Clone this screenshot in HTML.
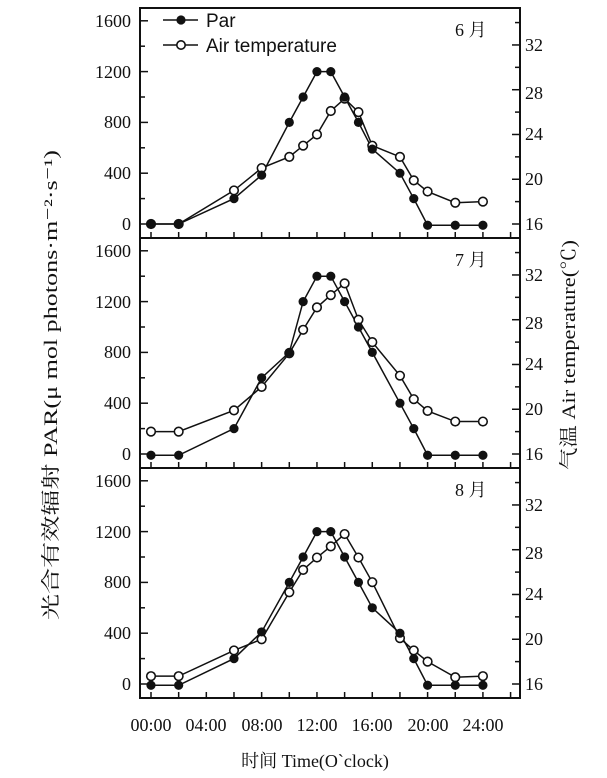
<!DOCTYPE html>
<html><head><meta charset="utf-8"><style>
body{margin:0;background:#fff;}
svg{display:block;font-family:"Liberation Serif","Noto Serif CJK SC",serif;}
</style></head><body>
<svg id="s" width="607" height="778" viewBox="0 0 607 778" xmlns="http://www.w3.org/2000/svg">
<g id="g"></g>
<g font-size="18" text-anchor="end" fill="#111">
<text x="131" y="27">1600</text><text x="131" y="78">1200</text><text x="131" y="128">800</text><text x="131" y="179">400</text><text x="131" y="230">0</text>
<text x="131" y="257">1600</text><text x="131" y="308">1200</text><text x="131" y="358">800</text><text x="131" y="409">400</text><text x="131" y="460">0</text>
<text x="131" y="487">1600</text><text x="131" y="538">1200</text><text x="131" y="588">800</text><text x="131" y="639">400</text><text x="131" y="690">0</text>
</g>
<g font-size="18" text-anchor="start" fill="#111">
<text x="525" y="51">32</text><text x="525" y="99">28</text><text x="525" y="140">24</text><text x="525" y="185">20</text><text x="525" y="230">16</text>
<text x="525" y="281">32</text><text x="525" y="329">28</text><text x="525" y="370">24</text><text x="525" y="415">20</text><text x="525" y="460">16</text>
<text x="525" y="511">32</text><text x="525" y="559">28</text><text x="525" y="600">24</text><text x="525" y="645">20</text><text x="525" y="690">16</text>
</g>
<g font-size="18" fill="#111">
<text x="455" y="36">6 月</text><text x="455" y="266">7 月</text><text x="455" y="496">8 月</text>
</g>
<g font-size="19" fill="#111" font-family="Liberation Sans, sans-serif">
<text x="206" y="27">Par</text><text x="206" y="52">Air temperature</text>
</g>
<g font-size="18" text-anchor="middle" fill="#111">
<text x="151" y="731">00:00</text><text x="206" y="731">04:00</text><text x="262" y="731">08:00</text><text x="317" y="731">12:00</text><text x="372" y="731">16:00</text><text x="428" y="731">20:00</text><text x="483" y="731">24:00</text>
<text x="315" y="767">时间 Time(O`clock)</text>
</g>
<text font-size="19" text-anchor="middle" fill="#111" textLength="470" lengthAdjust="spacingAndGlyphs" transform="translate(57,385) rotate(-90)">光合有效辐射 PAR(μ mol photons·m⁻²·s⁻¹)</text>
<text font-size="19" text-anchor="middle" fill="#111" textLength="230" lengthAdjust="spacingAndGlyphs" transform="translate(575,355) rotate(-90)">气温 Air temperature(℃)</text>
</svg>
<script>
const g=document.getElementById('g');const NS='http://www.w3.org/2000/svg';
function el(t,a){const e=document.createElementNS(NS,t);for(const k in a)e.setAttribute(k,a[k]);g.appendChild(e);return e;}
const X=h=>151+h*13.83;
const H=[0,2,6,8,10,11,12,13,14,15,16,18,19,20,22,24];
const panels=[
 {top:8,par:[0,0,200,385,800,1000,1200,1200,1000,800,590,400,200,-10,-10,-10],
  tem:[16,16,19,21,22,23,24,26.1,27.2,26,23,22,19.9,18.9,17.9,18]},
 {top:238,par:[-10,-10,200,600,800,1200,1400,1400,1200,1000,800,400,200,-10,-10,-10],
  tem:[18,18,19.9,22,25,27.1,29.1,30.2,31.25,28,26,23,20.9,19.85,18.9,18.9]},
 {top:468,par:[-10,-10,200,410,800,1000,1200,1200,1000,800,600,400,200,-10,-10,-10],
  tem:[16.7,16.7,19,20,24.2,26.2,27.3,28.3,29.4,27.3,25.1,20.1,19,18,16.6,16.7]}];
panels.forEach((p,i)=>{
 const t=p.top,z=t+216;
 const Yp=v=>z-v*0.127, Yt=v=>z-(v-16)*11.19;
 el('rect',{x:140,y:t,width:380,height:230,fill:'none',stroke:'#111','stroke-width':2});
 for(let v=0;v<=1600;v+=200)el('line',{x1:140,x2:v%400?145:148,y1:Yp(v),y2:Yp(v),stroke:'#111','stroke-width':1.5});
 for(let v=16;v<=34;v+=2)el('line',{x1:520,x2:v%4?515:512,y1:Yt(v),y2:Yt(v),stroke:'#111','stroke-width':1.5});
 for(let h=0;h<=26;h+=2)el('line',{x1:X(h),x2:X(h),y1:t+230,y2:t+224,stroke:'#111','stroke-width':1.5});
 const pp=H.map((h,j)=>[X(h),Yp(p.par[j])]), tp=H.map((h,j)=>[X(h),Yt(p.tem[j])]);
 el('polyline',{points:pp.join(' '),fill:'none',stroke:'#111','stroke-width':1.5});
 el('polyline',{points:tp.join(' '),fill:'none',stroke:'#111','stroke-width':1.5});
 tp.forEach(q=>el('circle',{cx:q[0],cy:q[1],r:4.3,fill:'#fff',stroke:'#111','stroke-width':1.6}));
 pp.forEach(q=>el('circle',{cx:q[0],cy:q[1],r:4.6,fill:'#111'}));
});
el('line',{x1:163,x2:198,y1:20,y2:20,stroke:'#111','stroke-width':1.6});
el('circle',{cx:181,cy:20,r:4.6,fill:'#111'});
el('line',{x1:163,x2:198,y1:45,y2:45,stroke:'#111','stroke-width':1.6});
el('circle',{cx:181,cy:45,r:4.2,fill:'#fff',stroke:'#111','stroke-width':1.6});
</script>
</body></html>
